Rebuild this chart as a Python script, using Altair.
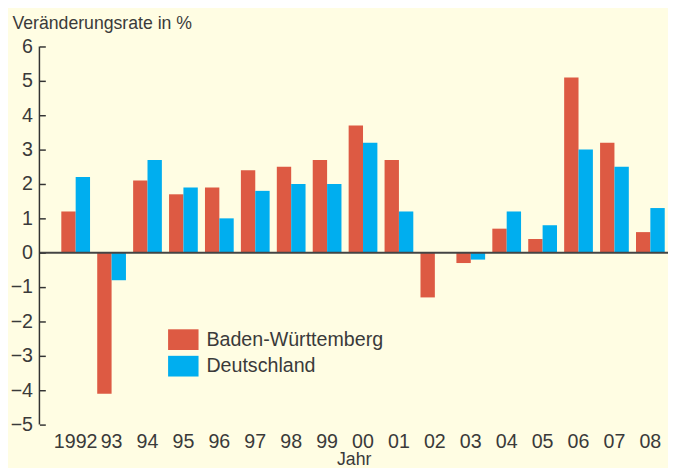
import altair as alt
import pandas as pd

years = ["1992", "93", "94", "95", "96", "97", "98", "99", "00", "01",
         "02", "03", "04", "05", "06", "07", "08"]
bw = [1.2, -4.1, 2.1, 1.7, 1.9, 2.4, 2.5, 2.7, 3.7, 2.7,
      -1.3, -0.3, 0.7, 0.4, 5.1, 3.2, 0.6]
de = [2.2, -0.8, 2.7, 1.9, 1.0, 1.8, 2.0, 2.0, 3.2, 1.2,
      0.0, -0.2, 1.2, 0.8, 3.0, 2.5, 1.3]
series = ["Baden-Württemberg", "Deutschland"]
colors = ["#DD5A43", "#00AEEF"]
y_ticks = [-5, -4, -3, -2, -1, 0, 1, 2, 3, 4, 5, 6]

rows = []
for i, yr in enumerate(years):
    rows.append({"Jahr": yr, "Region": series[0], "Wert": bw[i]})
    rows.append({"Jahr": yr, "Region": series[1], "Wert": de[i]})
df = pd.DataFrame(rows)

FONT = "Liberation Sans"
TXT = "#3a3a3a"

yax = alt.Axis(values=y_ticks, offset=-6, domain=False, tickSize=6,
               tickColor="#333333", tickWidth=1.5, grid=False,
               labelOverlap=False,
               labelPadding=7, labelFontSize=20, labelColor=TXT,
               labelFont=FONT, format="d",
               title="Veränderungsrate in %", titleAngle=0,
               titleAlign="left", titleBaseline="alphabetic",
               titleX=-34, titleY=-18, titleFontSize=18,
               titleFontWeight="normal", titleColor=TXT,
               titleFont=FONT)
yscale = alt.Scale(domain=[-5, 6], nice=False)

bars = alt.Chart(df).mark_bar().encode(
    x=alt.X("Jahr:N", sort=years,
            scale=alt.Scale(paddingInner=0.2, paddingOuter=0.35, align=0.87),
            axis=alt.Axis(title="Jahr", labelAngle=0, ticks=False, domain=False,
                          labelPadding=7, labelFontSize=20, labelColor=TXT,
                          titleFontSize=18, titleFontWeight="normal", titleColor=TXT,
                          titlePadding=0, labelFont=FONT, titleFont=FONT)),
    xOffset=alt.XOffset("Region:N", sort=series),
    y=alt.Y("Wert:Q", scale=yscale, axis=yax),
    color=alt.Color("Region:N", sort=series,
                    scale=alt.Scale(domain=series, range=colors),
                    legend=alt.Legend(title=None, orient="none", legendX=129,
                                      legendY=281, symbolType="M-1,-0.68H1V0.68H-1Z",
                                      symbolSize=961, symbolStrokeWidth=0,
                                      labelFontSize=20, labelColor=TXT,
                                      labelFont=FONT, labelOffset=8,
                                      labelLimit=400,
                                      rowPadding=-3, padding=2)),
)

zero = alt.Chart(pd.DataFrame({"Wert": [0]})).mark_rule(
    color="#444444", strokeWidth=2).encode(
    y=alt.Y("Wert:Q", scale=yscale, axis=yax))

yline = alt.Chart(pd.DataFrame({"Wert": [6], "b": [-5]})).mark_rule(
    color="#333333", strokeWidth=1.5).encode(
    x=alt.value(0), y=alt.Y("Wert:Q", scale=yscale, axis=yax), y2="b:Q")

chart = alt.layer(bars, zero, yline).properties(
    width=640, height=385, background="#FFFDE3",
    padding={"left": 32, "top": 35, "right": 0, "bottom": 40},
    autosize=alt.AutoSizeParams(type="none"),
).configure_view(stroke=None).configure_axisY(labelOverlap=False)

chart.save("out.html", embed_options={"renderer": "svg", "actions": False})
